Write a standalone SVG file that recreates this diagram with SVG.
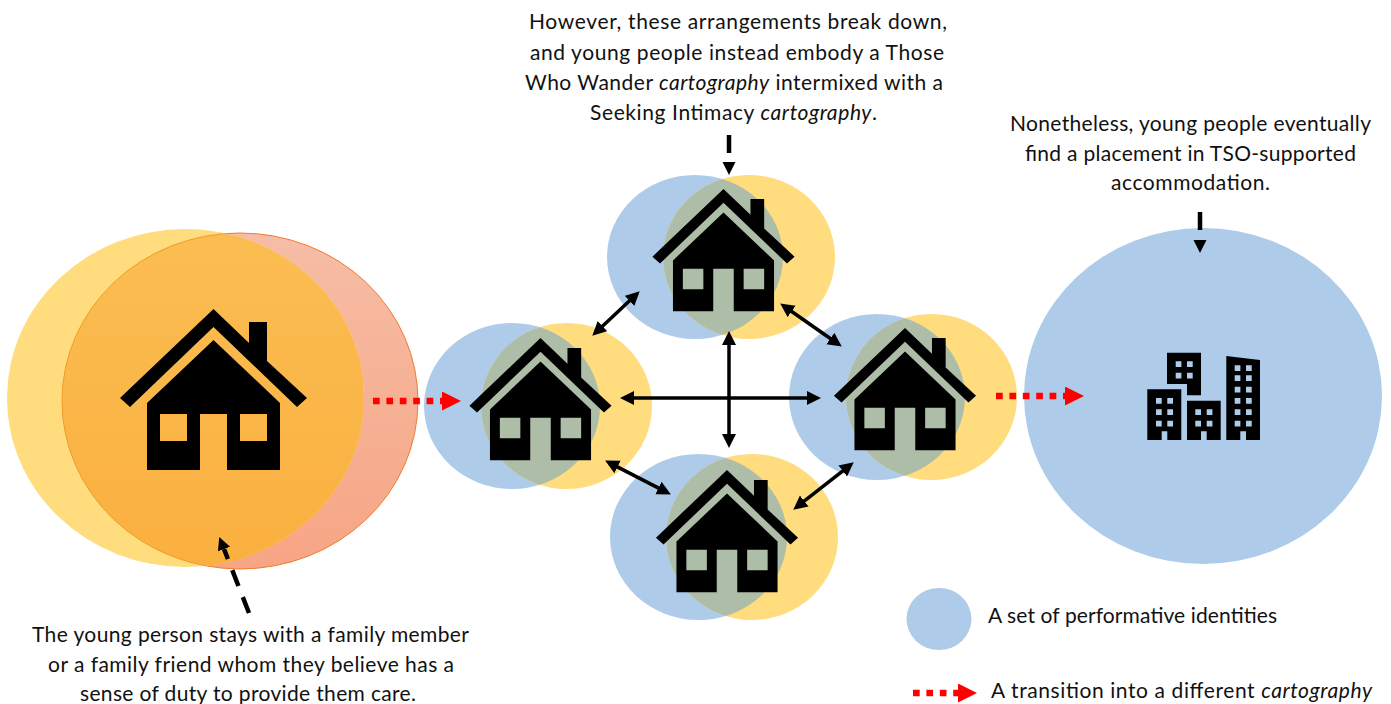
<svg xmlns="http://www.w3.org/2000/svg" width="1391" height="704" viewBox="0 0 1391 704">
<style>
.blue{fill:#AECCE9}
.yellow{fill:#FFDC7D}
.mix{fill:#AEBDA8}
.t{font-family:"Lato","Carlito","Liberation Sans",sans-serif;font-size:21px;fill:#111}
.t tspan{font-style:italic}
.dbl{stroke:#000;stroke-width:3.5;fill:none;marker-start:url(#hd);marker-end:url(#hd)}
.dash{stroke:#000;stroke-width:4.5;fill:none;marker-end:url(#hb)}
.red{stroke:#f00;stroke-width:6.5;fill:none;stroke-dasharray:6.7 6.7;marker-end:url(#hr)}
</style>
<defs>
<linearGradient id="og" x1="0" y1="0" x2="0" y2="1"><stop offset="0" stop-color="#F6BDA6"/><stop offset="1" stop-color="#F7A584"/></linearGradient>
<linearGradient id="og2" x1="0" y1="0" x2="0" y2="1"><stop offset="0" stop-color="#FBBD52"/><stop offset="1" stop-color="#FAB03F"/></linearGradient>
<marker id="hd" markerUnits="userSpaceOnUse" markerWidth="16" markerHeight="15" refX="3" refY="7" orient="auto-start-reverse"><path d="M0,0L14,7L0,14Z"/></marker>
<marker id="hb" markerUnits="userSpaceOnUse" markerWidth="14" markerHeight="14" refX="0" refY="6.5" orient="auto"><path d="M0,0L13,6.5L0,13Z"/></marker>
<marker id="hr" markerUnits="userSpaceOnUse" markerWidth="20" markerHeight="20" refX="0" refY="9.5" orient="auto"><path d="M0,0L19,9.5L0,19Z" fill="#f00"/></marker>
<clipPath id="c0"><ellipse cx="185.5" cy="398" rx="178.5" ry="169"/></clipPath>
<clipPath id="c1"><ellipse cx="749" cy="257" rx="86" ry="82"/></clipPath>
<clipPath id="c2"><ellipse cx="566.5" cy="406" rx="85.5" ry="83"/></clipPath>
<clipPath id="c3"><ellipse cx="931.5" cy="397" rx="85.5" ry="83"/></clipPath>
<clipPath id="c4"><ellipse cx="752" cy="537" rx="86" ry="83"/></clipPath>
<path id="house" fill="#000" fill-rule="evenodd" d="M0,0L35.5,34V13H53.5V52L93.5,89L83.5,98L0,18L-83.5,98L-93.5,89ZM0,31L66.5,94V161H13.5V105H-13.5V161H-66.5V94ZM-53.5,105V132H-26.5V105ZM26.5,105V132H53.5V105Z"/>
</defs>

<g id="node-family">
<ellipse cx="240" cy="401" rx="178" ry="168" fill="url(#og)" stroke="#ED7D31" stroke-width="1"/>
<ellipse class="yellow" cx="185.5" cy="398" rx="178.5" ry="169"/>
<ellipse cx="240" cy="401" rx="178" ry="168" fill="url(#og2)" stroke="#F09A28" stroke-width="1" clip-path="url(#c0)"/>
<use href="#house" transform="translate(213.5,309)"/>
</g>
<g id="node-top">
<ellipse class="blue" cx="695" cy="257" rx="88" ry="82"/>
<ellipse class="yellow" cx="749" cy="257" rx="86" ry="82"/>
<ellipse class="mix" cx="695" cy="257" rx="88" ry="82" clip-path="url(#c1)"/>
<use href="#house" transform="translate(723.5,189) scale(.76)"/>
</g>
<g id="node-left">
<ellipse class="blue" cx="512" cy="406" rx="88" ry="83"/>
<ellipse class="yellow" cx="566.5" cy="406" rx="85.5" ry="83"/>
<ellipse class="mix" cx="512" cy="406" rx="88" ry="83" clip-path="url(#c2)"/>
<use href="#house" transform="translate(540.5,338) scale(.76)"/>
</g>
<g id="node-right">
<ellipse class="blue" cx="877" cy="397" rx="88" ry="83"/>
<ellipse class="yellow" cx="931.5" cy="397" rx="85.5" ry="83"/>
<ellipse class="mix" cx="877" cy="397" rx="88" ry="83" clip-path="url(#c3)"/>
<use href="#house" transform="translate(905,328) scale(.76)"/>
</g>
<g id="node-bottom">
<ellipse class="blue" cx="698.5" cy="537" rx="88.5" ry="83"/>
<ellipse class="yellow" cx="752" cy="537" rx="86" ry="83"/>
<ellipse class="mix" cx="698.5" cy="537" rx="88.5" ry="83" clip-path="url(#c4)"/>
<use href="#house" transform="translate(727,470) scale(.76)"/>
</g>
<g id="node-tso">
<ellipse class="blue" cx="1203" cy="396" rx="179" ry="168"/>
<path fill="#000" fill-rule="evenodd" d="M1167,352.7H1201V395.3H1187V384H1167ZM1175.7,361.3h5.7v5.7h-5.7zM1187,361.3h5.7v5.7h-5.7zM1175.7,372.7h5.7v5.7h-5.7zM1187,372.7h5.7v5.7h-5.7z
M1147.3,389.3H1181.3V440H1167.3V431.3H1161.7V440H1147.3ZM1156,398h5.7v5.7h-5.7zM1167.3,398h5.7v5.7h-5.7zM1156,409.3h5.7v5.7h-5.7zM1167.3,409.3h5.7v5.7h-5.7zM1156,420.7h5.7v5.7h-5.7zM1167.3,420.7h5.7v5.7h-5.7z
M1187,400.7H1220.7V440H1206.7V431.3H1201V440H1187ZM1195.3,409.3h5.7v5.7h-5.7zM1206.7,409.3h5.7v5.7h-5.7zM1195.3,420.7h5.7v5.7h-5.7zM1206.7,420.7h5.7v5.7h-5.7z
M1226.3,356L1260,360V440H1246V431.3H1240.3V440H1226.3ZM1234.7,365.3h5.7v5.7h-5.7zM1246,365.3h5.7v5.7h-5.7zM1234.7,375.3h5.7v5.7h-5.7zM1246,375.3h5.7v5.7h-5.7zM1234.7,386.7h5.7v5.7h-5.7zM1246,386.7h5.7v5.7h-5.7zM1234.7,398h5.7v5.7h-5.7zM1246,398h5.7v5.7h-5.7zM1234.7,409.3h5.7v5.7h-5.7zM1246,409.3h5.7v5.7h-5.7zM1234.7,420.7h5.7v5.7h-5.7zM1246,420.7h5.7v5.7h-5.7z"/>
</g>
<g id="legend-swatch"><ellipse class="blue" cx="939" cy="619" rx="32.5" ry="31"/></g>

<g id="connectors">
<line class="dbl" x1="600.3" y1="328.2" x2="631.7" y2="298.8"/>
<line class="dbl" x1="789.2" y1="309.7" x2="832.8" y2="340.3"/>
<line class="dbl" x1="631" y1="398" x2="810" y2="398"/>
<line class="dbl" x1="729" y1="342" x2="729" y2="437"/>
<line class="dbl" x1="614.9" y1="465.6" x2="661.1" y2="489.4"/>
<line class="dbl" x1="801.9" y1="502.9" x2="845.1" y2="469.1"/>
<line class="dash" x1="729" y1="135" x2="729" y2="162" stroke-dasharray="18 40"/>
<line class="dash" x1="1200" y1="212" x2="1200" y2="240" stroke-dasharray="18 40"/>
<line class="dash" x1="249" y1="613" x2="224" y2="549" stroke-dasharray="17 12"/>
<line class="red" x1="373" y1="401" x2="442" y2="401"/>
<line class="red" x1="996" y1="396" x2="1065" y2="396"/>
<line class="red" x1="913" y1="693" x2="958" y2="693"/>
</g>

<g id="labels">
<text class="t" x="529" y="29" textLength="418">However, these arrangements break down,</text>
<text class="t" x="530" y="59.5" textLength="414">and young people instead embody a Those</text>
<text class="t" x="525" y="90" textLength="418">Who Wander <tspan>cartography</tspan> intermixed with a</text>
<text class="t" x="590" y="120" textLength="287">Seeking Intimacy <tspan>cartography</tspan>.</text>
<text class="t" x="1010" y="131" textLength="361">Nonetheless, young people eventually</text>
<text class="t" x="1025" y="161" textLength="331">find a placement in TSO-supported</text>
<text class="t" x="1111" y="190" textLength="159">accommodation.</text>
<text class="t" x="32" y="642" textLength="437">The young person stays with a family member</text>
<text class="t" x="48" y="672" textLength="406">or a family friend whom they believe has a</text>
<text class="t" x="80" y="701" textLength="336">sense of duty to provide them care.</text>
<text class="t" x="988" y="623" textLength="289">A set of performative identities</text>
<text class="t" x="991" y="698" textLength="381">A transition into a different <tspan>cartography</tspan></text>
</g>
</svg>
